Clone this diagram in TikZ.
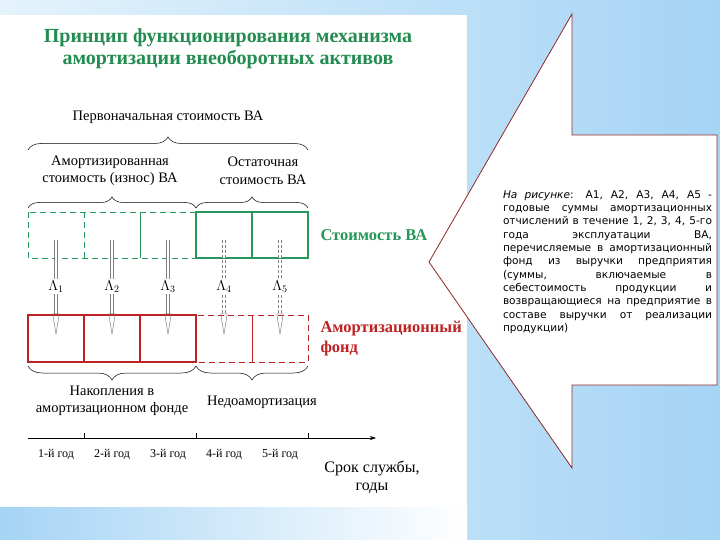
\documentclass[tikz,border=0pt]{standalone}
\usepackage{fontspec}
\setmainfont{Liberation Serif}
\newfontfamily\notefont{DejaVu Sans}
\usetikzlibrary{arrows.meta,decorations.pathreplacing,positioning}
\definecolor{vagreen}{RGB}{38,150,90}
\definecolor{fondred}{RGB}{190,35,35}
\definecolor{titlegreen}{RGB}{35,140,80}
\definecolor{edgered}{RGB}{140,40,40}
\definecolor{bgblue}{RGB}{165,212,245}
\definecolor{bgpale}{RGB}{228,243,252}
\hbadness=10000

\begin{document}
\begin{tikzpicture}[x=1pt,y=-1pt]
\tikzstyle{cell}=[rectangle,minimum width=56pt,inner sep=0pt,outer sep=0pt]
\tikzstyle{lbl}=[font=\fontsize{14.5}{17.5}\selectfont,align=center]
\tikzstyle{yr}=[font=\fontsize{12}{14}\selectfont]
\tikzstyle{brc}=[decorate,decoration={brace,amplitude=11pt},line width=0.5pt]
\tikzstyle{amort}=[draw=gray,double=white,double distance=2.4pt,line width=0.5pt,-{Triangle[open,length=22pt,width=7pt]},shorten <=5pt,shorten >=3pt]
\tikzstyle{thinline}=[line width=0.8pt]
\tikzstyle{thickline}=[line width=2pt]
\tikzstyle{dsh}=[dash pattern=on 6pt off 4pt]
\useasboundingbox (0,0) rectangle (720,540);
% background
\shade[left color=bgpale, right color=bgblue] (0,0) rectangle (720,540);
\fill[white] (0,15) rectangle (467,507);
\shade[left color=bgblue, right color=white] (0,507) rectangle (467,540);

\node[font=\bfseries\fontsize{20}{22}\selectfont,text=titlegreen,align=center] (title) at (228,49)
  {Принцип функционирования механизма\\амортизации внеоборотных активов};

% cells
\foreach \i in {1,...,5} {
  \node[cell,minimum height=46pt] (g\i) at (56*\i,235) {};
  \node[cell,minimum height=47pt] (r\i) at (56*\i,338.5) {};
}
\draw[vagreen,thinline,dsh] (g1.north west) rectangle (g3.south east);
\draw[vagreen,thinline,dsh] (g1.north east) -- (g1.south east);
\draw[vagreen,thinline] (g2.north east) -- (g2.south east);
\draw[vagreen,thickline] (g4.north west) rectangle (g5.south east);
\draw[vagreen,thickline] (g4.north east) -- (g4.south east);
\draw[fondred,thickline] (r1.north west) rectangle (r3.south east);
\draw[fondred,thickline] (r1.north east) -- (r1.south east) (r2.north east) -- (r2.south east);
\draw[fondred,thinline,dsh] (r4.north west) rectangle (r5.south east);
\draw[fondred,thinline] (r4.north east) -- (r4.south east);

\node[font=\bfseries\fontsize{16.5}{19}\selectfont,text=vagreen,right=9pt of g5] (va) {Стоимость ВА};
\node[font=\bfseries\fontsize{16.5}{20}\selectfont,text=fondred,align=left,right=9pt of r5] (fund) {Амортизационный\\фонд};

% annual sums
\foreach \i in {1,2,3}
  \draw[amort] (g\i.center) -- node[fill=white,inner sep=1.5pt,font=\fontsize{14}{16}\selectfont] {$\Lambda_{\i}$} (r\i.center);
\foreach \i in {4,5}
  \draw[amort,dash pattern=on 3pt off 2pt] (g\i.center) -- node[fill=white,inner sep=1.5pt,font=\fontsize{14}{16}\selectfont] {$\Lambda_{\i}$} (r\i.center);

% braces
\draw[brc,decoration={amplitude=13pt}] ([yshift=62pt]g1.north west) -- ([yshift=62pt]g5.north east);
\draw[brc] ([yshift=4pt]g1.north west) -- ([yshift=4pt]g3.north east);
\draw[brc] ([yshift=4pt]g4.north west) -- ([yshift=4pt]g5.north east);
\draw[brc,decoration={mirror,amplitude=14pt}] ([yshift=-4pt]r1.south west) -- ([yshift=-4pt]r3.south east);
\draw[brc,decoration={mirror,amplitude=14pt}] ([yshift=-4pt]r4.south west) -- ([yshift=-4pt]r5.south east);

\node[lbl] (first) at (168,117) {Первоначальная стоимость ВА};
\node[lbl] (worn) at (110,171) {Амортизированная\\стоимость (износ) ВА};
\node[lbl] (rest) at (263,171) {Остаточная\\стоимость ВА};
\node[lbl] (acc) at (112,401) {Накопления в\\амортизационном фонде};
\node[lbl] (under) at (262,402) {Недоамортизация};

% time axis
\coordinate (o) at (28,438);
\coordinate (t) at (376,438);
\draw[line width=0.6pt,-{Stealth[length=6pt,width=4pt]}] (o) -- (t);
\foreach \x in {84,196,308}
  \draw[line width=0.6pt] (\x,438) -- (\x,433);
\foreach \i in {1,...,5}
  \node[yr] (y\i) at (56*\i,455) {\i-й год};
\node[font=\fontsize{16}{18}\selectfont,align=center] (term) at (372,477) {Срок службы,\\годы};

% callout
\draw[edgered,fill=white,line width=0.8pt] (429,262) -- (572,14) -- (572,135) -- (717,135)
  -- (717,385) -- (572,385) -- (572,468) -- cycle;
\node[text width=209pt,align=justify,inner sep=0pt,font=\notefont\fontsize{10.6}{13.3}\selectfont] (note) at (607.5,262)
  {\textit{На рисунке}: А1, А2, А3, А4, А5 -\linebreak
   годовые суммы амортизационных\linebreak
   отчислений в течение 1, 2, 3, 4, 5-го\linebreak
   года эксплуатации ВА,\linebreak
   перечисляемые в амортизационный\linebreak
   фонд из выручки предприятия\linebreak
   (суммы, включаемые в\linebreak
   себестоимость продукции и\linebreak
   возвращающиеся на предприятие в\linebreak
   составе выручки от реализации\linebreak
   продукции)};
\end{tikzpicture}
\end{document}
